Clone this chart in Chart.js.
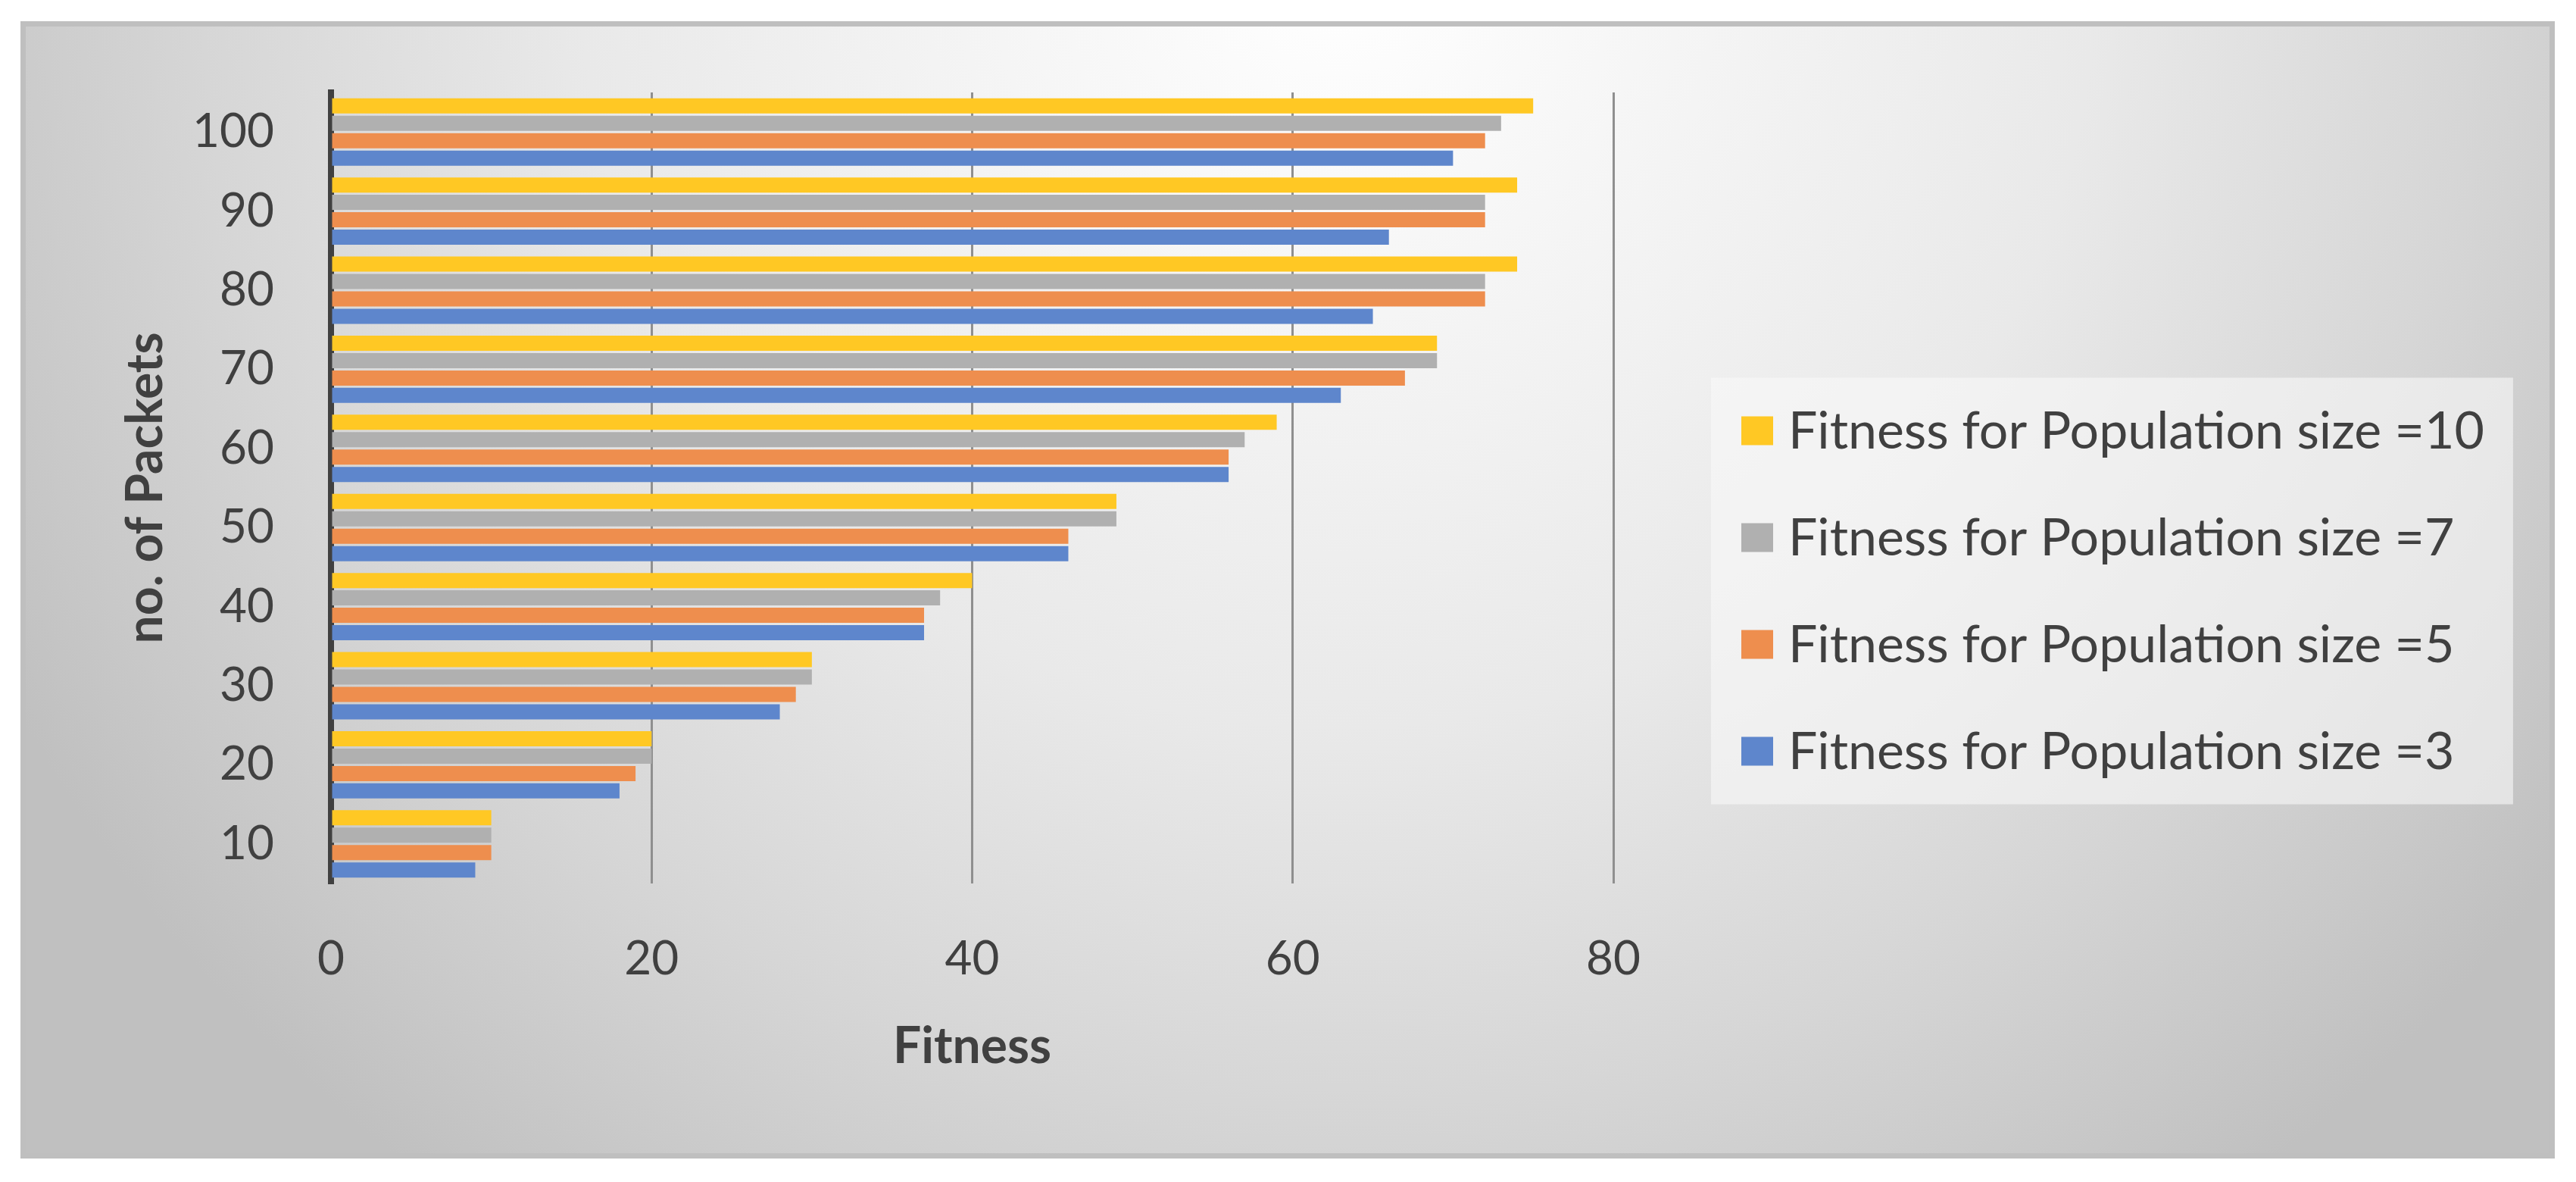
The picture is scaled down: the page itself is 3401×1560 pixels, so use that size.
<!DOCTYPE html>
<html>
<head>
<meta charset="utf-8">
<title>Fitness vs no. of Packets</title>
<script src="https://cdn.jsdelivr.net/npm/chart.js@4.4.1/dist/chart.umd.min.js"></script>
<style>
  html, body { margin: 0; padding: 0; background: #ffffff; }
  #frame {
    position: absolute; left: 27px; top: 28px;
    width: 3332px; height: 1487px;
    border: 7px solid #bfbfbf;
    background: radial-gradient(circle 2000px at 52% -5%, #ffffff 0%, #e9e9e9 50%, #d6d6d6 75%, #c9c9c9 90%, #c0c0c0 100%);
  }
  #chart { position: absolute; left: 0; top: 0; }
</style>
</head>
<body>
<div id="frame"></div>
<canvas id="chart" width="3401" height="1560"></canvas>
<script>
// categories (top to bottom)
const packets = ['100', '90', '80', '70', '60', '50', '40', '30', '20', '10'];

// fitness values per population size, same order as packets
const fitnessPop10 = [75, 74, 74, 69, 59, 49, 40, 30, 20, 10];
const fitnessPop7  = [73, 72, 72, 69, 57, 49, 38, 30, 20, 10];
const fitnessPop5  = [72, 72, 72, 67, 56, 46, 37, 29, 19, 10];
const fitnessPop3  = [70, 66, 65, 63, 56, 46, 37, 28, 18, 9];

const seriesLabels = [
  'Fitness for Population size =10',
  'Fitness for Population size =7',
  'Fitness for Population size =5',
  'Fitness for Population size =3'
];
const seriesColors = ['#FFC824', '#B0B0B0', '#EE8E4E', '#5E86CC'];

const xMin = 0;
const xMax = 80;
const xStep = 20;

const FONT = 'Lato, "Open Sans", sans-serif';
const TEXT = '#404040';

// Legend to the right of the plot, in a light panel.
// Drawn by hand because the built-in right legend is capped at a quarter of the width.
const sideLegend = {
  id: 'sideLegend',
  afterDraw(chart) {
    const {ctx, chartArea} = chart;
    const sets = chart.data.datasets;
    const rowGap = 141;
    const markX = chartArea.right + 169;
    const firstY = chart.height / 2 - (sets.length - 1) / 2 * rowGap;
    ctx.save();
    ctx.font = '68px ' + FONT;
    const textW = Math.max(...sets.map(d => ctx.measureText(d.label).width));
    const textX = markX + 62;

    ctx.fillStyle = 'rgba(248, 248, 248, 0.6)';
    ctx.fillRect(markX - 40, firstY - 70, textX + textW + 38 - (markX - 40), (sets.length - 1) * rowGap + 140);

    sets.forEach((d, i) => {
      const y = firstY + i * rowGap;
      ctx.fillStyle = d.backgroundColor;
      ctx.fillRect(markX, y - 19, 42, 38);
      ctx.fillStyle = TEXT;
      ctx.textAlign = 'left';
      ctx.textBaseline = 'middle';
      ctx.fillText(d.label, textX, y + 2);
    });
    ctx.restore();
  }
};

const datasets = [fitnessPop10, fitnessPop7, fitnessPop5, fitnessPop3].map((data, i) => ({
  label: seriesLabels[i],
  data,
  backgroundColor: seriesColors[i],
  borderWidth: 0
}));

new Chart(document.getElementById('chart'), {
  type: 'bar',
  data: { labels: packets, datasets },
  options: {
    indexAxis: 'y',
    responsive: false,
    animation: false,
    layout: { padding: { left: 120, top: 122, right: 1271, bottom: 125 } },
    datasets: { bar: { categoryPercentage: 0.88, barPercentage: 0.87 } },
    scales: {
      x: {
        min: xMin,
        max: xMax,
        ticks: { stepSize: xStep, padding: 63, color: TEXT, font: { family: FONT, size: 62 } },
        grid: { color: '#8f8f8f', lineWidth: 3, drawTicks: false },
        border: { display: false },
        title: {
          display: true, text: 'Fitness', color: TEXT,
          font: { family: FONT, size: 66, weight: 'bold' },
          padding: { top: 0, bottom: 14 }
        },
        afterFit: s => { s.height = 269; }
      },
      y: {
        z: 1,
        ticks: { padding: 75, color: TEXT, font: { family: FONT, size: 62 } },
        grid: { display: false, drawTicks: false },
        border: { color: '#404040', width: 8 },
        title: {
          display: true, text: 'no. of Packets', color: TEXT,
          font: { family: FONT, size: 66, weight: 'bold' },
          padding: { top: 33, bottom: 0 }
        },
        afterFit: s => { s.width = 317; }
      }
    },
    plugins: {
      legend: { display: false },
      tooltip: { enabled: false }
    }
  },
  plugins: [sideLegend]
});
</script>
</body>
</html>
